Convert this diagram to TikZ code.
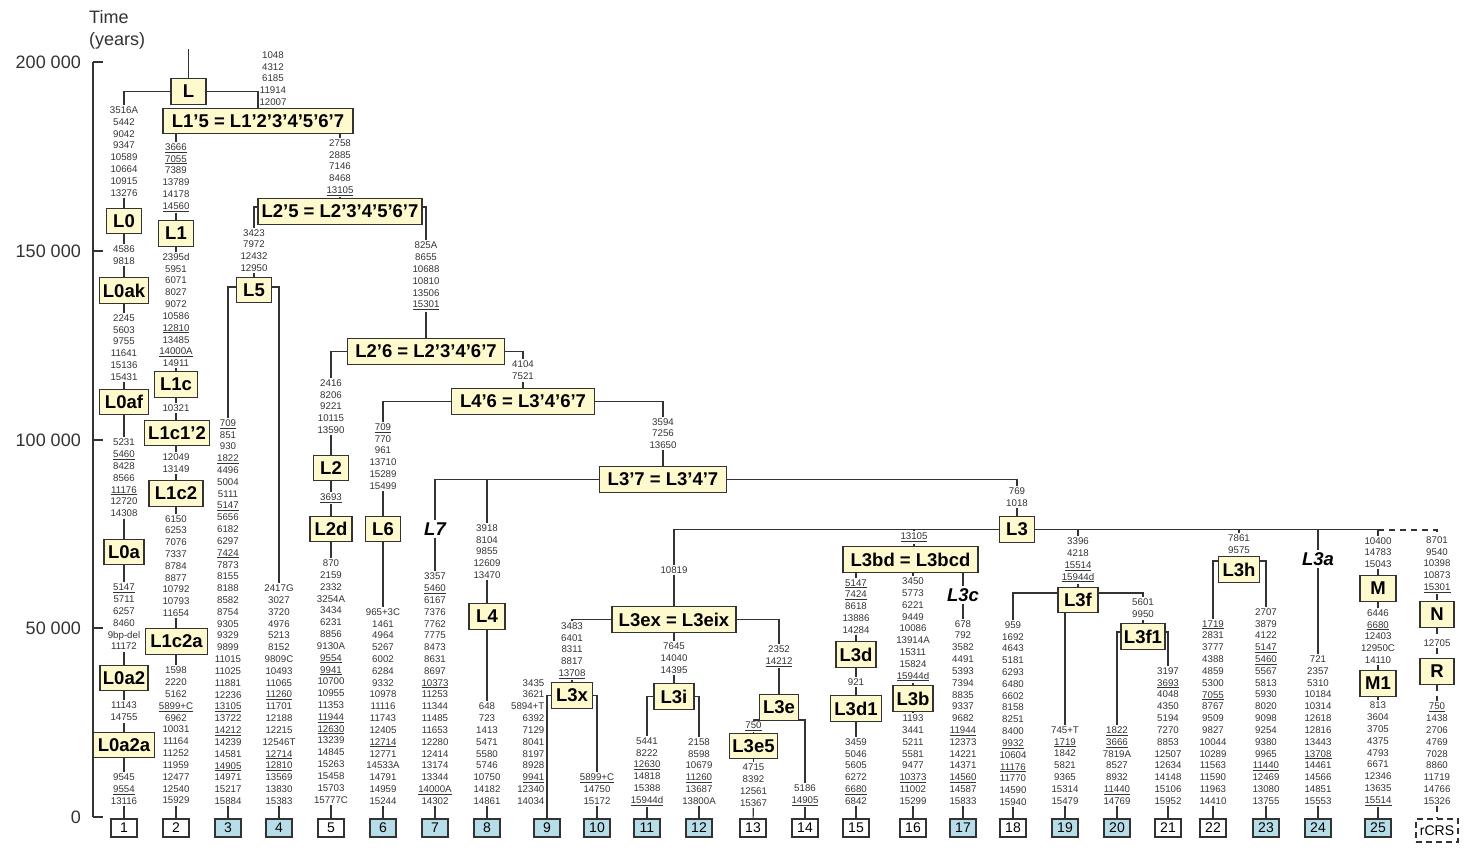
\documentclass[tikz,border=0pt]{standalone}
\usepackage{fontspec}
\setmainfont{Liberation Sans}
\definecolor{hgfill}{RGB}{255,250,205}
\definecolor{seqfill}{RGB}{183,221,232}
\definecolor{ink}{RGB}{51,51,51}
\newcommand{\ulm}[1]{\underline{#1}}
\tikzset{
  hg/.style={draw=ink, line width=1.3pt, fill=hgfill, text=black,
    font=\fontsize{18.5}{20}\selectfont\bfseries, inner xsep=3pt, inner ysep=0pt,
    minimum height=25.5pt},
  mut/.style={font=\fontsize{9.7}{11.82}\selectfont, align=center, inner sep=1.5pt, text=ink},
  seq/.style={draw=ink, line width=1.2pt, fill=white, text=black,
    font=\fontsize{14}{16}\selectfont, minimum width=26pt, minimum height=18pt, inner sep=0pt},
  seqb/.style={seq, fill=seqfill},
  lbl/.style={font=\fontsize{18.5}{20}\selectfont\bfseries\itshape, inner sep=2pt},
  axislab/.style={font=\fontsize{18}{20}\selectfont, text=ink, inner sep=0pt},
  link/.style={draw=ink, line width=1.2pt},
  dlink/.style={link, dash pattern=on 6pt off 5pt},
}
\begin{document}
\begin{tikzpicture}[x=1pt,y=-1pt]
\useasboundingbox (0,0) rectangle (1465,853);

% ---------- time axis ----------
\node[axislab, anchor=base west] (ttime) at (89,23.5) {Time};
\node[axislab, anchor=base west] (tyears) at (89,46) {(years)};
\draw[link] (93,62) -- (93,817);
\foreach \yy/\lab [count=\i] in {62/200 000,251/150 000,440/100 000,628/50 000,817/0}{
  \draw[link] (93,\yy) -- (103,\yy);
  \node[axislab, anchor=east] (ax\i) at (81,\yy) {\lab};
}

% ---------- haplogroup boxes ----------
\coordinate (top) at (188.5,49);
\node[hg, minimum width=35pt] (L) at (188.5,91.5) {L};
\node[hg, minimum width=190pt] (L15) at (258,121) {L1’5 = L1’2’3’4’5’6’7};
\node[hg, minimum width=35pt] (L0) at (124,221) {L0};
\node[hg, minimum width=49pt] (L0ak) at (124,290.5) {L0ak};
\node[hg, minimum width=49pt] (L0af) at (124,402) {L0af};
\node[hg, minimum width=40pt] (L0a) at (124,552) {L0a};
\node[hg, minimum width=48pt] (L0a2) at (124,678) {L0a2};
\node[hg, minimum width=61pt] (L0a2a) at (124,745) {L0a2a};
\node[hg, minimum width=35pt] (L1) at (176,233.5) {L1};
\node[hg, minimum width=43pt] (L1c) at (176,384.5) {L1c};
\node[hg, minimum width=65pt] (L1c12) at (177,433) {L1c1’2};
\node[hg, minimum width=54pt] (L1c2) at (176,493.5) {L1c2};
\node[hg, minimum width=62pt] (L1c2a) at (176.5,641.5) {L1c2a};
\node[hg, minimum width=164pt] (L25) at (340,211.5) {L2’5 = L2’3’4’5’6’7};
\node[hg, minimum width=35pt] (L5) at (254,290) {L5};
\node[hg, minimum width=157pt] (L26) at (426,351.5) {L2’6 = L2’3’4’6’7};
\node[hg, minimum width=35pt] (L2) at (331,468) {L2};
\node[hg, minimum width=42pt] (L2d) at (331,529) {L2d};
\node[hg, minimum width=143pt] (L46) at (523,401.5) {L4’6 = L3’4’6’7};
\node[hg, minimum width=35pt] (L6) at (383,529) {L6};
\node[hg, minimum width=127pt] (L37) at (663,479.5) {L3’7 = L3’4’7};
\node[lbl] (L7) at (435,529) {L7};
\node[hg, minimum width=36pt] (L4) at (487,616.5) {L4};
\node[hg, minimum width=35pt] (L3) at (1017,529.5) {L3};
\node[hg, minimum width=124pt] (L3ex) at (674,619.5) {L3ex = L3eix};
\node[hg, minimum width=41pt] (L3x) at (572,695.5) {L3x};
\node[hg, minimum width=40pt] (L3i) at (674,696.5) {L3i};
\node[hg, minimum width=39pt] (L3e) at (779,707.5) {L3e};
\node[hg, minimum width=47pt] (L3e5) at (753.5,746) {L3e5};
\node[hg, minimum width=135pt] (L3bd) at (910.5,559.5) {L3bd = L3bcd};
\node[hg, minimum width=40pt] (L3d) at (856,654.5) {L3d};
\node[hg, minimum width=51pt] (L3d1) at (856,708.5) {L3d1};
\node[hg, minimum width=40pt] (L3b) at (913,698.5) {L3b};
\node[lbl] (L3c) at (963,595) {L3c};
\node[hg, minimum width=40pt] (L3f) at (1078,600) {L3f};
\node[hg, minimum width=43pt] (L3f1) at (1143,636.5) {L3f1};
\node[hg, minimum width=41pt] (L3h) at (1239,569.5) {L3h};
\node[lbl] (L3a) at (1318,559) {L3a};
\node[hg, minimum width=36pt] (M) at (1378,588.5) {M};
\node[hg, minimum width=36pt] (M1) at (1378,683.5) {M1};
\node[hg, minimum width=34pt] (N) at (1437,614.5) {N};
\node[hg, minimum width=34pt] (R) at (1437,671.5) {R};

% ---------- mutation lists ----------
\node[mut] (mL0) at (124,151.5) {3516A\\5442\\9042\\9347\\10589\\10664\\10915\\13276};
\node[mut] (m4586) at (124,255) {4586\\9818};
\node[mut] (m2245) at (124,347.5) {2245\\5603\\9755\\11641\\15136\\15431};
\node[mut] (m5231) at (124,478) {5231\\\ulm{5460}\\8428\\8566\\\ulm{11176}\\12720\\14308};
\node[mut] (m5147a) at (124,617) {\ulm{5147}\\5711\\6257\\8460\\9bp-del\\11172};
\node[mut] (m11143) at (124,711.5) {11143\\14755};
\node[mut] (m9545) at (124,789) {9545\\\ulm{9554}\\13116};
\node[mut] (mL1) at (176,177.5) {\ulm{3666}\\\ulm{7055}\\7389\\13789\\14178\\\ulm{14560}};
\node[mut] (m2395) at (176,310) {2395d\\5951\\6071\\8027\\9072\\10586\\\ulm{12810}\\13485\\\ulm{14000A}\\14911};
\node[mut] (m10321) at (176,408) {10321};
\node[mut] (m12049) at (176,463) {12049\\13149};
\node[mut] (m6150) at (176,566) {6150\\6253\\7076\\7337\\8784\\8877\\10792\\10793\\11654};
\node[mut] (m1598) at (176,735.5) {1598\\2220\\5162\\\ulm{5899+C}\\6962\\10031\\11164\\11252\\11959\\12477\\12540\\15929};
\node[mut] (m1048) at (273,78.5) {1048\\4312\\6185\\11914\\12007};
\node[mut] (m2758) at (340,167.5) {2758\\2885\\7146\\8468\\\ulm{13105}};
\node[mut] (m3423) at (254,250.5) {3423\\7972\\12432\\12950};
\node[mut] (m825) at (426,276) {825A\\8655\\10688\\10810\\13506\\\ulm{15301}};
\node[mut] (m3) at (228,612) {\ulm{709}\\851\\930\\\ulm{1822}\\4496\\5004\\5111\\\ulm{5147}\\5656\\6182\\6297\\\ulm{7424}\\7873\\8155\\8188\\8582\\8754\\9305\\9329\\9899\\11015\\11025\\11881\\12236\\\ulm{13105}\\13722\\\ulm{14212}\\14239\\14581\\\ulm{14905}\\14971\\15217\\15884};
\node[mut] (m4) at (279,694.6) {2417G\\3027\\3720\\4976\\5213\\8152\\9809C\\10493\\11065\\\ulm{11260}\\11701\\12188\\12215\\12546T\\\ulm{12714}\\\ulm{12810}\\13569\\13830\\15383};
\node[mut] (m2416) at (331,406.5) {2416\\8206\\9221\\10115\\13590};
\node[mut] (m3693) at (331,498) {\ulm{3693}};
\node[mut] (m870) at (331,681.5) {870\\2159\\2332\\3254A\\3434\\6231\\8856\\9130A\\\ulm{9554}\\\ulm{9941}\\10700\\10955\\11353\\\ulm{11944}\\\ulm{12630}\\13239\\14845\\15263\\15458\\15703\\15777C};
\node[mut] (m709b) at (383,456.5) {\ulm{709}\\770\\961\\13710\\15289\\15499};
\node[mut] (m965) at (383,706.4) {965+3C\\1461\\4964\\5267\\6002\\6284\\9332\\10978\\11116\\11743\\12405\\\ulm{12714}\\12771\\14533A\\14791\\14959\\15244};
\node[mut] (m4104) at (523,370.5) {4104\\7521};
\node[mut] (m3594) at (663,433.5) {3594\\7256\\13650};
\node[mut] (m3357) at (435,688.7) {3357\\\ulm{5460}\\6167\\7376\\7762\\7775\\8473\\8631\\8697\\\ulm{10373}\\11253\\11344\\11485\\11653\\12280\\12414\\13174\\13344\\\ulm{14000A}\\14302};
\node[mut] (m3918) at (487,551.5) {3918\\8104\\9855\\12609\\13470};
\node[mut] (m648) at (487,753.7) {648\\723\\1413\\5471\\5580\\5746\\10750\\14182\\14861};
\node[mut] (m769) at (1017,497) {769\\1018};
\node[mut] (m10819) at (674,570) {10819};
\node[mut] (m3483) at (572,650.5) {3483\\6401\\8311\\8817\\\ulm{13708}};
\node[mut, align=right, anchor=east] (m3435) at (546,741.9) {3435\\3621\\5894+T\\6392\\7129\\8041\\8197\\8928\\\ulm{9941}\\12340\\14034};
\node[mut] (m5899) at (597,789.2) {\ulm{5899+C}\\14750\\15172};
\node[mut] (m7645) at (674,658) {7645\\14040\\14395};
\node[mut] (m5441) at (647,771.5) {5441\\8222\\\ulm{12630}\\14818\\15388\\\ulm{15944d}};
\node[mut] (m2158) at (699,771.5) {2158\\8598\\10679\\\ulm{11260}\\13687\\13800A};
\node[mut] (m2352) at (779,656) {2352\\\ulm{14212}};
\node[mut] (m750) at (753.5,726) {\ulm{750}};
\node[mut] (m4715) at (753.5,785) {4715\\8392\\12561\\15367};
\node[mut] (m5186) at (805,795) {5186\\\ulm{14905}};
\node[mut] (m13105) at (914,537.5) {\ulm{13105}};
\node[mut] (m5147) at (856,606.5) {\ulm{5147}\\\ulm{7424}\\8618\\13886\\14284};
\node[mut] (m921) at (856,682) {921};
\node[mut] (m3459) at (856,771.5) {3459\\5046\\5605\\6272\\\ulm{6680}\\6842};
\node[mut] (m3450) at (913,629.5) {3450\\5773\\6221\\9449\\10086\\13914A\\15311\\15824\\\ulm{15944d}};
\node[mut] (m1193) at (913,759.6) {1193\\3441\\5211\\5581\\9477\\\ulm{10373}\\11002\\15299};
\node[mut] (m678) at (963,712.4) {678\\792\\3582\\4491\\5393\\7394\\8835\\9337\\9682\\\ulm{11944}\\12373\\14221\\14371\\\ulm{14560}\\14587\\15833};
\node[mut] (m959) at (1013,713.5) {959\\1692\\4643\\5181\\6293\\6480\\6602\\8158\\8251\\8400\\\ulm{9932}\\10604\\\ulm{11176}\\11770\\14590\\15940};
\node[mut] (m3396) at (1078,560) {3396\\4218\\\ulm{15514}\\\ulm{15944d}};
\node[mut] (m745) at (1065,765.5) {745+T\\\ulm{1719}\\1842\\5821\\9365\\15314\\15479};
\node[mut] (m5601) at (1143,608.5) {5601\\9950};
\node[mut] (m1822) at (1117,765.5) {\ulm{1822}\\\ulm{3666}\\7819A\\8527\\8932\\\ulm{11440}\\14769};
\node[mut] (m3197) at (1168,736) {3197\\\ulm{3693}\\4048\\4350\\5194\\7270\\8853\\12507\\12634\\14148\\15106\\15952};
\node[mut] (m7861) at (1239,544.5) {7861\\9575};
\node[mut] (m1719) at (1213,712.4) {\ulm{1719}\\2831\\3777\\4388\\4859\\5300\\\ulm{7055}\\8767\\9509\\9827\\10044\\10289\\11563\\11590\\11963\\14410};
\node[mut] (m2707) at (1266,706.4) {2707\\3879\\4122\\\ulm{5147}\\\ulm{5460}\\5567\\5813\\5930\\8020\\9098\\9254\\9380\\9965\\\ulm{11440}\\12469\\13080\\13755};
\node[mut] (m721) at (1318,730.1) {721\\2357\\5310\\10184\\10314\\12618\\12816\\13443\\\ulm{13708}\\14461\\14566\\14851\\15553};
\node[mut] (m10400) at (1378,552.5) {10400\\14783\\15043};
\node[mut] (m6446) at (1378,636.5) {6446\\\ulm{6680}\\12403\\12950C\\14110};
\node[mut] (m813) at (1378,753.7) {813\\3604\\3705\\4375\\4793\\6671\\12346\\13635\\\ulm{15514}};
\node[mut] (m8701) at (1437,564.5) {8701\\9540\\10398\\10873\\\ulm{15301}};
\node[mut] (m12705) at (1437,643) {12705};
\node[mut] (m750b) at (1437,753.7) {\ulm{750}\\1438\\2706\\4769\\7028\\8860\\11719\\14766\\15326};

% ---------- sequence boxes ----------
\foreach \n/\xx/\st in {1/124/seq,2/176/seq,3/228/seqb,4/279/seqb,5/331/seq,6/383/seqb,
  7/435/seqb,8/487/seqb,9/547/seqb,10/597/seqb,11/647/seqb,12/699/seqb,13/753/seq,
  14/805/seq,15/856/seq,16/913/seq,17/963/seqb,18/1013/seq,19/1065/seqb,20/1117/seqb,
  21/1168/seq,22/1213/seq,23/1266/seqb,24/1318/seqb,25/1378/seqb}{
  \node[\st] (b\n) at (\xx,828) {\n};
}
\node[seq, minimum width=42pt, minimum height=23pt, dash pattern=on 6pt off 4pt] (bR) at (1437,830.5) {rCRS};

% ---------- connectors ----------
\draw[link] (top) -- (L);
\draw[link] (L.west) -| (mL0);
\draw[link] (L.east) -| (L15);
% L0 column
\draw[link] (mL0) -- (L0);
\draw[link] (L0) -- (m4586);
\draw[link] (m4586) -- (L0ak);
\draw[link] (L0ak) -- (m2245);
\draw[link] (m2245) -- (L0af);
\draw[link] (L0af) -- (m5231);
\draw[link] (m5231) -- (L0a);
\draw[link] (L0a) -- (m5147a);
\draw[link] (m5147a) -- (L0a2);
\draw[link] (L0a2) -- (m11143);
\draw[link] (m11143) -- (L0a2a);
\draw[link] (L0a2a) -- (m9545);
\draw[link] (m9545) -- (b1);
% L1 column
\draw[link] (mL1) -- (mL1 |- L15.south);
\draw[link] (mL1) -- (L1);
\draw[link] (L1) -- (m2395);
\draw[link] (m2395) -- (L1c);
\draw[link] (L1c) -- (m10321);
\draw[link] (m10321) -- (L1c12.north -| m10321);
\draw[link] (L1c12.south -| m12049) -- (m12049);
\draw[link] (m12049) -- (L1c2);
\draw[link] (L1c2) -- (m6150);
\draw[link] (m6150) -- (L1c2a.north -| m6150);
\draw[link] (L1c2a.south -| m1598) -- (m1598);
\draw[link] (m1598) -- (b2);
% L2'5 and L5
\draw[link] (m2758) -- (m2758 |- L15.south);
\draw[link] (m2758) -- (L25);
\draw[link] ([yshift=4.5pt]L25.west) -| (m3423);
\draw[link] (m3423) -- (L5);
\draw[link] ([yshift=3pt]L5.west) -| (m3);
\draw[link] ([yshift=3pt]L5.east) -| (m4);
\draw[link] (m3) -- (b3);
\draw[link] (m4) -- (b4);
\draw[link] ([yshift=4.5pt]L25.east) -| (m825);
\draw[link] (m825) -- (L26);
% L2
\draw[link] (L26.west) -| (m2416);
\draw[link] (m2416) -- (L2);
\draw[link] (L2) -- (m3693);
\draw[link] (m3693) -- (L2d);
\draw[link] (L2d) -- (m870);
\draw[link] (m870) -- (b5);
% L4'6, L6
\draw[link] (L26.east) -| (m4104);
\draw[link] (m4104) -- (L46);
\draw[link] (L46.west) -| (m709b);
\draw[link] (m709b) -- (L6);
\draw[link] (L6) -- (m965);
\draw[link] (m965) -- (b6);
\draw[link] (L46.east) -| (m3594);
\draw[link] (m3594) -- (L37);
% L7, L4
\draw[link] (L37.west) -| (L7);
\draw[link] (L7) -- (m3357);
\draw[link] (m3357) -- (b7);
\draw[link] (L37.west) -| (m3918);
\draw[link] (m3918) -- (L4);
\draw[link] (L4) -- (m648);
\draw[link] (m648) -- (b8);
% L3
\draw[link] (L37.east) -| (m769);
\draw[link] (m769) -- (L3);
\draw[link] (L3.west) -| (m10819);
\draw[link] (m10819) -- (L3ex);
\draw[link] (L3ex.west) -| (m3483);
\draw[link] (m3483) -- (L3x);
\draw[link] (L3x.west) -| (b9);
\draw[link] (L3x.east) -| (m5899);
\draw[link] (m5899) -- (b10);
\draw[link] (L3ex) -- (m7645);
\draw[link] (m7645) -- (L3i);
\draw[link] (L3i.west) -| (m5441);
\draw[link] (m5441) -- (b11);
\draw[link] (L3i.east) -| (m2158);
\draw[link] (m2158) -- (b12);
\draw[link] (L3ex.east) -| (m2352);
\draw[link] (m2352) -- (L3e);
\draw[link] ([yshift=1pt]L3e.south west) -| (m750);
\draw[link] (m750) -- (L3e5);
\draw[link] (L3e5) -- (m4715);
\draw[link] (m4715) -- (b13);
\draw[link] ([yshift=1pt]L3e.south east) -| (m5186);
\draw[link] (m5186) -- (b14);
% L3bd
\draw[link] (L3.west) -| (m13105);
\draw[link] (m13105) -- (m13105 |- L3bd.north);
\draw[link] (m5147) -- (m5147 |- L3bd.south);
\draw[link] (m5147) -- (L3d);
\draw[link] (L3d) -- (m921);
\draw[link] (m921) -- (L3d1);
\draw[link] (L3d1) -- (m3459);
\draw[link] (m3459) -- (b15);
\draw[link] (m3450) -- (m3450 |- L3bd.south);
\draw[link] (m3450) -- (L3b);
\draw[link] (L3b) -- (m1193);
\draw[link] (m1193) -- (b16);
\draw[link] (L3c) -- (L3c |- L3bd.south);
\draw[link] (L3c) -- (m678);
\draw[link] (m678) -- (b17);
% L3f
\draw[link] (L3.east) -| (m3396);
\draw[link] (m3396) -- (L3f);
\draw[link] ([yshift=7pt]L3f.west) -| (m959);
\draw[link] (m959) -- (b18);
\draw[link] (m745) -- (m745 |- L3f.south);
\draw[link] (m745) -- (b19);
\draw[link] ([yshift=7pt]L3f.east) -| (m5601);
\draw[link] (m5601) -- (L3f1);
\draw[link] ([yshift=4.5pt]L3f1.west) -| (m1822);
\draw[link] (m1822) -- (b20);
\draw[link] ([yshift=4.5pt]L3f1.east) -| (m3197);
\draw[link] (m3197) -- (b21);
% L3h
\draw[link] (L3.east) -| (m7861);
\draw[link] (m7861) -- (L3h);
\draw[link] ([yshift=8.5pt]L3h.west) -| (m1719);
\draw[link] (m1719) -- (b22);
\draw[link] ([yshift=8.5pt]L3h.east) -| (m2707);
\draw[link] (m2707) -- (b23);
% L3a
\draw[link] (L3.east) -| (L3a);
\draw[link] (L3a) -- (m721);
\draw[link] (m721) -- (b24);
% M
\draw[link] (L3.east) -| (m10400);
\draw[link] (m10400) -- (M);
\draw[link] (M) -- (m6446);
\draw[link] (m6446) -- (M1);
\draw[link] (M1) -- (m813);
\draw[link] (m813) -- (b25);
% N, R and the reference sequence
\coordinate (jM) at (1378,530);
\draw[dlink] (jM) -| (m8701);
\draw[dlink] (m8701) -- (N);
\draw[dlink] (N) -- (m12705);
\draw[dlink] (m12705) -- (R);
\draw[dlink] (R) -- (m750b);
\draw[dlink] (m750b) -- (bR);
\end{tikzpicture}
\end{document}
